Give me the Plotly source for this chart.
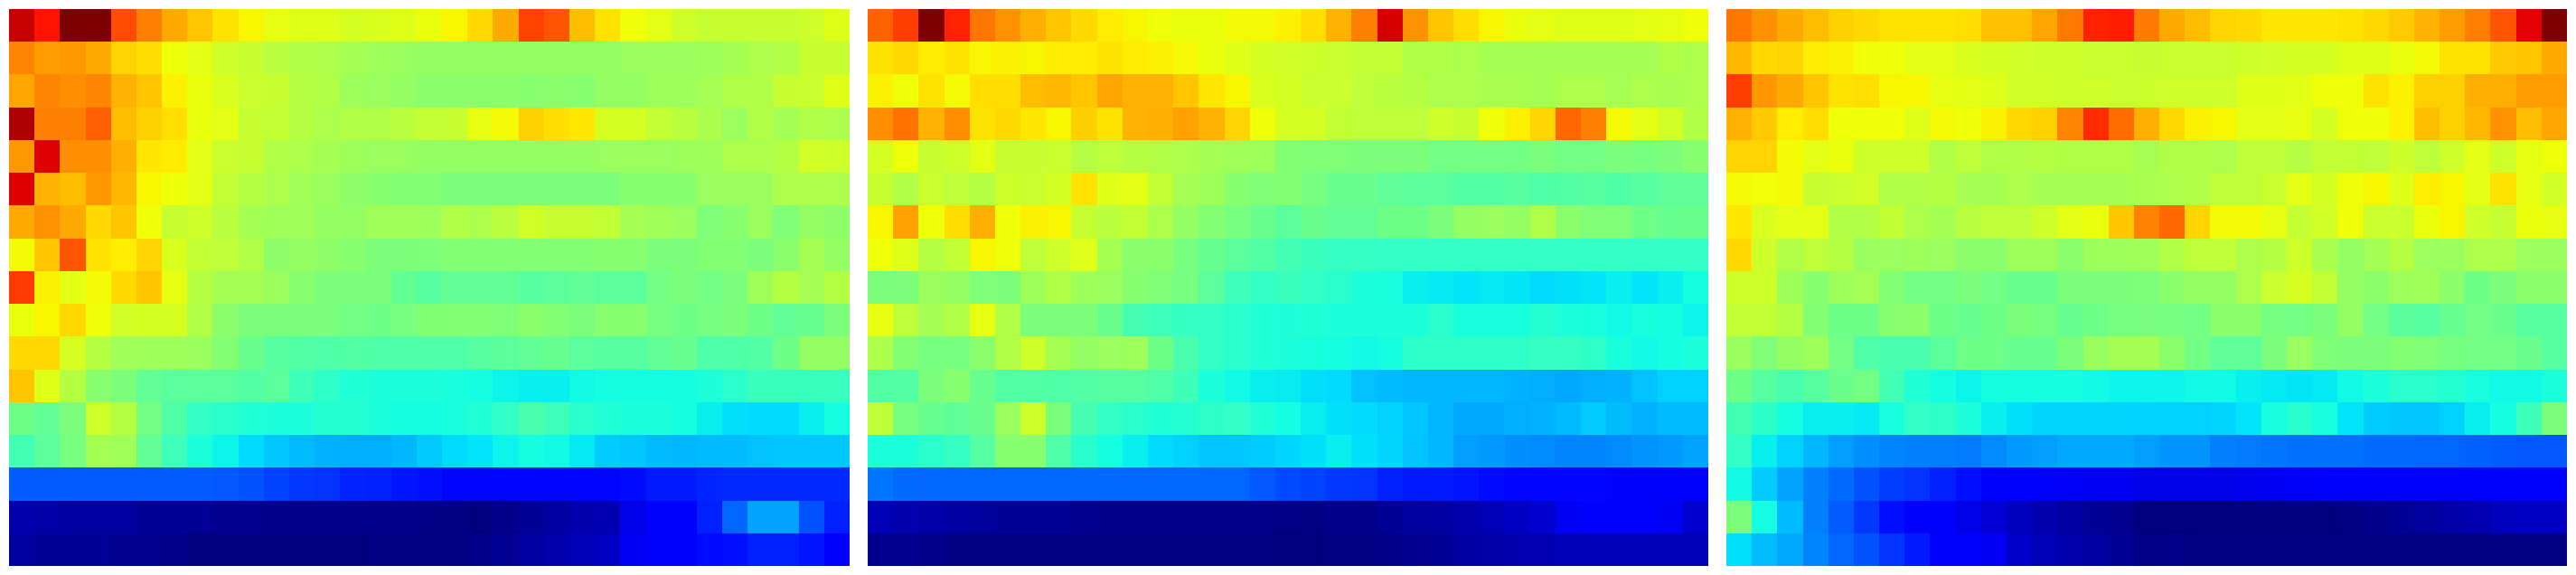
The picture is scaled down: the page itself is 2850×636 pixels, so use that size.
import plotly.graph_objects as go

# Values, on a 0..1 scale; each row has 33 cells.
panel_a = [
[.94,.89,1.0,1.0,.83,.775,.73,.70,.67,.65,.63,.62,.62,.61,.615,.62,.635,.65,.68,.73,.84,.82,.71,.67,.64,.625,.60,.59,.59,.59,.59,.60,.62],
[.77,.745,.75,.73,.685,.675,.64,.625,.60,.59,.575,.565,.56,.55,.54,.535,.53,.53,.53,.53,.53,.53,.53,.53,.535,.535,.535,.54,.55,.56,.565,.59,.59],
[.735,.77,.76,.77,.72,.70,.655,.635,.615,.595,.59,.57,.565,.54,.535,.53,.52,.52,.52,.52,.515,.52,.515,.53,.53,.54,.54,.55,.565,.565,.59,.595,.62],
[.96,.775,.775,.81,.71,.69,.675,.635,.625,.59,.585,.57,.56,.565,.565,.575,.587,.59,.63,.645,.69,.675,.665,.61,.61,.585,.575,.56,.535,.565,.55,.565,.56],
[.75,.92,.76,.76,.725,.665,.66,.625,.595,.59,.565,.56,.55,.54,.535,.535,.53,.53,.53,.53,.53,.53,.53,.535,.535,.535,.54,.54,.56,.56,.57,.605,.60],
[.92,.72,.71,.75,.715,.65,.64,.625,.585,.57,.56,.545,.535,.525,.515,.51,.51,.50,.50,.50,.50,.50,.50,.50,.515,.515,.515,.535,.535,.535,.56,.56,.56],
[.73,.755,.73,.68,.70,.64,.59,.60,.575,.55,.545,.545,.53,.53,.545,.545,.54,.565,.56,.575,.605,.59,.59,.585,.55,.545,.535,.505,.515,.535,.505,.53,.525],
[.645,.70,.82,.67,.66,.685,.615,.585,.58,.565,.525,.53,.525,.515,.50,.50,.503,.51,.51,.51,.51,.51,.51,.515,.515,.50,.50,.51,.51,.50,.52,.55,.53],
[.85,.655,.625,.645,.68,.70,.63,.57,.55,.55,.535,.515,.50,.50,.50,.47,.455,.47,.47,.47,.455,.46,.47,.46,.46,.49,.50,.49,.50,.545,.57,.55,.57],
[.635,.65,.68,.64,.605,.61,.61,.565,.52,.50,.50,.50,.50,.49,.485,.495,.507,.51,.51,.505,.52,.51,.50,.515,.515,.495,.485,.495,.50,.485,.47,.475,.50],
[.68,.68,.61,.57,.545,.54,.54,.535,.51,.48,.455,.45,.445,.45,.445,.445,.447,.445,.455,.46,.47,.475,.46,.455,.455,.47,.475,.445,.445,.45,.485,.53,.53],
[.70,.62,.57,.515,.50,.47,.46,.46,.46,.45,.46,.425,.405,.39,.385,.385,.385,.38,.375,.365,.36,.36,.37,.375,.375,.375,.375,.385,.40,.42,.42,.42,.42],
[.485,.47,.50,.60,.57,.49,.445,.41,.40,.39,.385,.385,.395,.395,.385,.375,.375,.38,.39,.41,.44,.425,.40,.39,.385,.385,.375,.36,.345,.34,.34,.36,.375],
[.43,.46,.495,.55,.545,.47,.425,.385,.365,.34,.32,.31,.30,.295,.295,.305,.322,.34,.35,.365,.375,.37,.355,.325,.32,.31,.305,.31,.31,.315,.32,.32,.32],
[.215,.215,.215,.215,.215,.215,.215,.215,.21,.205,.19,.18,.175,.16,.155,.145,.14,.13,.13,.13,.13,.13,.13,.13,.135,.15,.15,.16,.165,.165,.165,.165,.165],
[.04,.035,.03,.03,.03,.02,.02,.02,.015,.015,.01,.01,.01,.01,.01,.01,.007,.005,0,.01,.02,.03,.04,.045,.09,.11,.12,.155,.225,.285,.285,.205,.155],
[.025,.02,.02,.02,.015,.015,.01,0,0,0,0,0,0,0,.005,.005,.003,.005,.01,.02,.03,.04,.05,.06,.10,.12,.12,.135,.14,.155,.155,.145,.125],
]

panel_b = [
[.805,.845,1.0,.875,.785,.755,.725,.70,.68,.66,.65,.64,.635,.635,.645,.645,.655,.675,.72,.775,.925,.755,.70,.675,.65,.635,.625,.62,.62,.62,.625,.63,.64],
[.67,.68,.66,.67,.65,.655,.65,.66,.66,.67,.66,.655,.645,.635,.62,.61,.605,.60,.595,.585,.585,.565,.565,.56,.55,.55,.55,.55,.55,.55,.55,.565,.56],
[.655,.64,.67,.645,.675,.675,.71,.715,.70,.735,.72,.72,.70,.665,.65,.615,.607,.595,.595,.58,.575,.57,.56,.56,.555,.555,.55,.56,.56,.55,.56,.555,.56],
[.76,.79,.72,.76,.67,.68,.665,.65,.69,.67,.72,.725,.74,.72,.685,.64,.61,.61,.585,.58,.58,.58,.60,.59,.64,.655,.685,.80,.775,.645,.625,.605,.565],
[.61,.64,.59,.60,.625,.59,.59,.595,.57,.58,.57,.565,.56,.55,.545,.54,.51,.505,.505,.50,.50,.50,.49,.49,.49,.49,.50,.49,.49,.50,.495,.50,.515],
[.59,.565,.595,.58,.57,.60,.595,.61,.67,.62,.625,.585,.55,.54,.515,.505,.51,.495,.48,.48,.465,.46,.46,.45,.45,.455,.445,.45,.455,.445,.455,.465,.465],
[.65,.74,.64,.675,.725,.64,.655,.65,.59,.575,.585,.56,.53,.51,.495,.48,.46,.48,.47,.47,.485,.485,.50,.53,.535,.53,.565,.52,.505,.505,.485,.475,.48],
[.64,.62,.57,.585,.65,.64,.58,.60,.62,.55,.52,.52,.495,.475,.46,.45,.432,.42,.415,.415,.41,.41,.41,.41,.41,.41,.41,.41,.41,.41,.41,.41,.41],
[.50,.50,.535,.53,.505,.50,.54,.565,.54,.535,.515,.505,.495,.46,.425,.41,.42,.41,.40,.385,.38,.36,.355,.35,.355,.35,.34,.345,.35,.36,.35,.36,.375],
[.63,.58,.55,.565,.63,.565,.50,.50,.50,.48,.435,.425,.415,.41,.40,.39,.387,.39,.385,.385,.385,.385,.40,.38,.38,.38,.395,.385,.38,.37,.38,.375,.365],
[.56,.51,.495,.495,.52,.565,.60,.55,.53,.535,.54,.485,.44,.41,.40,.39,.385,.38,.375,.37,.375,.405,.405,.405,.405,.405,.415,.415,.405,.38,.37,.375,.385],
[.45,.45,.50,.515,.475,.45,.45,.445,.45,.455,.455,.445,.425,.385,.37,.36,.357,.345,.34,.315,.31,.305,.305,.305,.305,.30,.295,.29,.295,.30,.315,.33,.33],
[.58,.495,.475,.465,.48,.535,.60,.50,.435,.41,.40,.39,.395,.405,.41,.39,.375,.36,.345,.34,.33,.32,.305,.29,.29,.295,.30,.31,.325,.31,.30,.31,.31],
[.385,.385,.40,.415,.455,.515,.515,.445,.40,.375,.36,.34,.33,.32,.32,.325,.335,.345,.36,.345,.335,.315,.305,.28,.275,.265,.26,.255,.255,.26,.27,.275,.285],
[.24,.23,.225,.225,.225,.225,.225,.225,.225,.225,.225,.225,.225,.225,.225,.21,.197,.19,.18,.175,.155,.15,.15,.145,.135,.13,.13,.13,.13,.125,.125,.125,.125],
[.05,.04,.035,.03,.025,.02,.02,.02,.015,.01,.01,.01,.01,.01,.01,.01,.007,.005,.01,.01,.02,.025,.03,.04,.05,.06,.07,.10,.12,.12,.12,.10,.07],
[.015,.015,.01,.005,.005,.005,.005,.005,.005,.005,.005,.005,.005,.005,.005,.005,0,0,.005,.005,.01,.015,.02,.03,.035,.04,.045,.05,.05,.05,.05,.05,.05],
]

panel_c = [
[.785,.755,.73,.71,.69,.68,.67,.67,.67,.675,.705,.705,.735,.78,.875,.88,.78,.73,.71,.685,.68,.665,.665,.665,.67,.68,.695,.72,.745,.775,.82,.915,1.0],
[.715,.68,.685,.66,.655,.64,.64,.625,.625,.615,.61,.605,.60,.60,.595,.595,.59,.595,.595,.595,.60,.605,.61,.61,.62,.62,.635,.645,.67,.67,.695,.70,.73],
[.845,.75,.73,.70,.67,.675,.65,.65,.63,.625,.62,.605,.605,.60,.60,.595,.597,.60,.60,.60,.62,.62,.625,.64,.64,.67,.655,.69,.69,.725,.725,.745,.745],
[.72,.695,.66,.675,.64,.64,.64,.62,.645,.64,.655,.68,.69,.77,.865,.795,.725,.68,.655,.65,.625,.625,.63,.61,.64,.64,.655,.71,.69,.715,.755,.71,.735],
[.685,.685,.645,.625,.635,.60,.60,.60,.565,.58,.565,.565,.57,.565,.565,.565,.552,.565,.565,.56,.58,.58,.57,.585,.585,.58,.60,.58,.60,.625,.60,.63,.64],
[.645,.64,.645,.59,.595,.605,.565,.565,.57,.55,.55,.56,.55,.55,.55,.55,.555,.56,.565,.58,.58,.595,.625,.61,.64,.65,.62,.66,.65,.625,.67,.63,.605],
[.665,.615,.625,.625,.565,.565,.585,.56,.55,.575,.58,.58,.60,.625,.635,.70,.772,.80,.685,.645,.645,.63,.59,.605,.64,.595,.595,.635,.65,.60,.59,.635,.63],
[.68,.60,.565,.58,.57,.535,.535,.54,.535,.52,.52,.54,.54,.52,.54,.54,.545,.565,.58,.58,.56,.57,.60,.555,.53,.55,.57,.535,.535,.56,.56,.535,.535],
[.60,.60,.54,.515,.54,.55,.51,.49,.49,.50,.49,.48,.48,.50,.50,.50,.503,.52,.53,.53,.56,.595,.61,.585,.53,.52,.54,.545,.52,.485,.50,.52,.52],
[.585,.585,.57,.51,.485,.485,.515,.52,.485,.475,.485,.50,.495,.475,.485,.495,.497,.495,.49,.52,.52,.495,.49,.50,.53,.49,.46,.455,.475,.49,.48,.455,.455],
[.535,.505,.53,.54,.49,.445,.44,.44,.46,.485,.485,.475,.475,.50,.535,.55,.55,.52,.49,.465,.465,.50,.535,.505,.50,.50,.51,.505,.495,.49,.49,.48,.455],
[.485,.455,.44,.455,.48,.49,.43,.39,.375,.365,.375,.375,.375,.375,.37,.365,.365,.365,.37,.37,.36,.355,.35,.355,.37,.385,.40,.40,.395,.38,.37,.37,.385],
[.43,.405,.375,.36,.36,.355,.38,.41,.405,.385,.36,.345,.335,.335,.335,.335,.332,.33,.33,.335,.35,.38,.40,.38,.35,.325,.32,.32,.33,.36,.375,.425,.50],
[.41,.36,.33,.305,.28,.265,.255,.25,.25,.245,.26,.275,.28,.29,.29,.29,.28,.27,.27,.25,.245,.24,.235,.235,.235,.23,.23,.225,.225,.22,.215,.21,.21],
[.37,.325,.285,.25,.23,.205,.185,.175,.155,.14,.12,.115,.11,.105,.10,.10,.09,.09,.09,.09,.095,.10,.105,.11,.11,.115,.12,.125,.125,.125,.125,.125,.125],
[.50,.375,.31,.25,.215,.18,.14,.12,.115,.09,.075,.055,.04,.03,.02,.015,0,0,0,0,0,0,0,0,.005,.01,.02,.025,.035,.045,.055,.06,.06],
[.345,.31,.29,.255,.225,.205,.175,.15,.12,.12,.10,.065,.05,.04,.03,.02,.007,.01,.005,.005,.005,.005,.005,.005,.005,.005,.005,.005,.005,.005,.005,.005,.005],
]

panels = [panel_a, panel_b, panel_c]
x_domains = [[10 / 2850, 940 / 2850], [960 / 2850, 1890 / 2850], [1910 / 2850, 2840 / 2850]]

# matplotlib-style jet, whose breakpoints differ from plotly's "Jet"
jet_stops = [
    (0.0, 0, 0, 127), (0.11, 0, 0, 255), (0.125, 0, 0, 255), (0.34, 0, 219, 255),
    (0.35, 0, 229, 247), (0.375, 20, 255, 226), (0.64, 238, 255, 8), (0.65, 247, 245, 0),
    (0.66, 255, 236, 0), (0.89, 255, 19, 0), (0.91, 232, 0, 0), (1.0, 127, 0, 0),
]
colorscale = [[s[0], f"rgb({s[1]},{s[2]},{s[3]})"] for s in jet_stops]

fig = go.Figure()
for i, (z, dom) in enumerate(zip(panels, x_domains)):
    assert all(len(r) == 33 for r in z), [len(r) for r in z]
    suffix = "" if i == 0 else str(i + 1)
    fig.add_trace(go.Heatmap(z=z, colorscale=colorscale, zmin=0, zmax=1, showscale=False,
                             xaxis="x" + suffix, yaxis="y" + suffix, xgap=0, ygap=0))
    fig.update_layout({
        "xaxis" + suffix: dict(domain=dom, visible=False, range=[-0.5, 32.5], fixedrange=True),
        "yaxis" + suffix: dict(domain=[10 / 636, 626 / 636], visible=False, range=[16.5, -0.5],
                               fixedrange=True, anchor="x" + suffix),
    })

fig.update_layout(width=2850, height=636, margin=dict(l=0, r=0, t=0, b=0),
                  paper_bgcolor="white", plot_bgcolor="white", showlegend=False)
fig.write_html("out.html", config={"displayModeBar": False},
               post_script="document.body.style.margin='0';document.body.style.overflow='hidden';")
